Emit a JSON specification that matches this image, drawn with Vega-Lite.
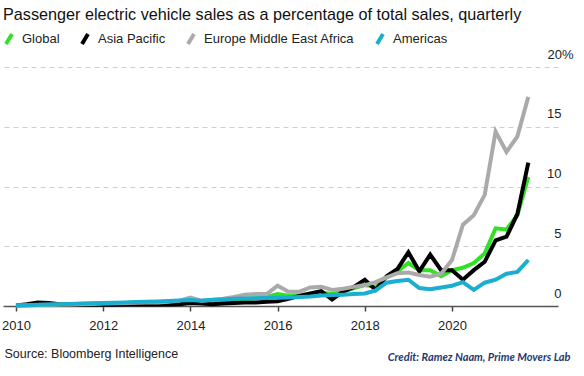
{
  "$schema": "https://vega.github.io/schema/vega-lite/v6.json",
  "width": 555,
  "height": 239,
  "autosize": {"type": "none"},
  "padding": {"left": 3, "top": 67, "right": 26, "bottom": 70},
  "background": "white",
  "config": {"view": {"stroke": null}, "font": "Liberation Sans"},
  "title": {
    "text": "Passenger electric vehicle sales as a percentage of total sales, quarterly",
    "anchor": "start",
    "frame": "group",
    "font": "Liberation Sans",
    "fontSize": 16.2,
    "fontWeight": "normal",
    "color": "#111111",
    "offset": 9
  },
  "data": {
    "values": [
      {"t": 2010, "s": "Global", "v": 0.05}, {"t": 2010.25, "s": "Global", "v": 0.07}, {"t": 2010.5, "s": "Global", "v": 0.1}, {"t": 2010.75, "s": "Global", "v": 0.12},
      {"t": 2011, "s": "Global", "v": 0.14}, {"t": 2011.25, "s": "Global", "v": 0.15}, {"t": 2011.5, "s": "Global", "v": 0.17}, {"t": 2011.75, "s": "Global", "v": 0.19},
      {"t": 2012, "s": "Global", "v": 0.22}, {"t": 2012.25, "s": "Global", "v": 0.24}, {"t": 2012.5, "s": "Global", "v": 0.26}, {"t": 2012.75, "s": "Global", "v": 0.28},
      {"t": 2013, "s": "Global", "v": 0.3}, {"t": 2013.25, "s": "Global", "v": 0.32}, {"t": 2013.5, "s": "Global", "v": 0.35}, {"t": 2013.75, "s": "Global", "v": 0.38},
      {"t": 2014, "s": "Global", "v": 0.45}, {"t": 2014.25, "s": "Global", "v": 0.4}, {"t": 2014.5, "s": "Global", "v": 0.45}, {"t": 2014.75, "s": "Global", "v": 0.5},
      {"t": 2015, "s": "Global", "v": 0.55}, {"t": 2015.25, "s": "Global", "v": 0.6}, {"t": 2015.5, "s": "Global", "v": 0.65}, {"t": 2015.75, "s": "Global", "v": 0.75},
      {"t": 2016, "s": "Global", "v": 1.0}, {"t": 2016.25, "s": "Global", "v": 0.85}, {"t": 2016.5, "s": "Global", "v": 0.9}, {"t": 2016.75, "s": "Global", "v": 1.0},
      {"t": 2017, "s": "Global", "v": 1.1}, {"t": 2017.25, "s": "Global", "v": 1.0}, {"t": 2017.5, "s": "Global", "v": 1.2}, {"t": 2017.75, "s": "Global", "v": 1.5},
      {"t": 2018, "s": "Global", "v": 1.75}, {"t": 2018.25, "s": "Global", "v": 1.6}, {"t": 2018.5, "s": "Global", "v": 2.4}, {"t": 2018.75, "s": "Global", "v": 2.9},
      {"t": 2019, "s": "Global", "v": 3.6}, {"t": 2019.25, "s": "Global", "v": 3.0}, {"t": 2019.5, "s": "Global", "v": 3.0}, {"t": 2019.75, "s": "Global", "v": 2.5},
      {"t": 2020, "s": "Global", "v": 3.0}, {"t": 2020.25, "s": "Global", "v": 3.2}, {"t": 2020.5, "s": "Global", "v": 3.6}, {"t": 2020.75, "s": "Global", "v": 4.4},
      {"t": 2021, "s": "Global", "v": 6.5}, {"t": 2021.25, "s": "Global", "v": 6.4}, {"t": 2021.5, "s": "Global", "v": 7.6}, {"t": 2021.75, "s": "Global", "v": 10.8},

      {"t": 2010, "s": "Asia Pacific", "v": 0.05}, {"t": 2010.25, "s": "Asia Pacific", "v": 0.15}, {"t": 2010.5, "s": "Asia Pacific", "v": 0.3}, {"t": 2010.75, "s": "Asia Pacific", "v": 0.25},
      {"t": 2011, "s": "Asia Pacific", "v": 0.15}, {"t": 2011.25, "s": "Asia Pacific", "v": 0.12}, {"t": 2011.5, "s": "Asia Pacific", "v": 0.1}, {"t": 2011.75, "s": "Asia Pacific", "v": 0.1},
      {"t": 2012, "s": "Asia Pacific", "v": 0.1}, {"t": 2012.25, "s": "Asia Pacific", "v": 0.1}, {"t": 2012.5, "s": "Asia Pacific", "v": 0.12}, {"t": 2012.75, "s": "Asia Pacific", "v": 0.12},
      {"t": 2013, "s": "Asia Pacific", "v": 0.12}, {"t": 2013.25, "s": "Asia Pacific", "v": 0.12}, {"t": 2013.5, "s": "Asia Pacific", "v": 0.12}, {"t": 2013.75, "s": "Asia Pacific", "v": 0.15},
      {"t": 2014, "s": "Asia Pacific", "v": 0.25}, {"t": 2014.25, "s": "Asia Pacific", "v": 0.2}, {"t": 2014.5, "s": "Asia Pacific", "v": 0.15}, {"t": 2014.75, "s": "Asia Pacific", "v": 0.2},
      {"t": 2015, "s": "Asia Pacific", "v": 0.25}, {"t": 2015.25, "s": "Asia Pacific", "v": 0.3}, {"t": 2015.5, "s": "Asia Pacific", "v": 0.3}, {"t": 2015.75, "s": "Asia Pacific", "v": 0.35},
      {"t": 2016, "s": "Asia Pacific", "v": 0.4}, {"t": 2016.25, "s": "Asia Pacific", "v": 0.6}, {"t": 2016.5, "s": "Asia Pacific", "v": 0.85}, {"t": 2016.75, "s": "Asia Pacific", "v": 1.05},
      {"t": 2017, "s": "Asia Pacific", "v": 1.25}, {"t": 2017.25, "s": "Asia Pacific", "v": 0.55}, {"t": 2017.5, "s": "Asia Pacific", "v": 1.2}, {"t": 2017.75, "s": "Asia Pacific", "v": 1.6},
      {"t": 2018, "s": "Asia Pacific", "v": 2.2}, {"t": 2018.25, "s": "Asia Pacific", "v": 1.35}, {"t": 2018.5, "s": "Asia Pacific", "v": 2.5}, {"t": 2018.75, "s": "Asia Pacific", "v": 3.1},
      {"t": 2019, "s": "Asia Pacific", "v": 4.5}, {"t": 2019.25, "s": "Asia Pacific", "v": 2.9}, {"t": 2019.5, "s": "Asia Pacific", "v": 4.3}, {"t": 2019.75, "s": "Asia Pacific", "v": 3.0},
      {"t": 2020, "s": "Asia Pacific", "v": 3.0}, {"t": 2020.25, "s": "Asia Pacific", "v": 2.2}, {"t": 2020.5, "s": "Asia Pacific", "v": 3.0}, {"t": 2020.75, "s": "Asia Pacific", "v": 3.7},
      {"t": 2021, "s": "Asia Pacific", "v": 5.5}, {"t": 2021.25, "s": "Asia Pacific", "v": 5.8}, {"t": 2021.5, "s": "Asia Pacific", "v": 7.7}, {"t": 2021.75, "s": "Asia Pacific", "v": 12.0},

      {"t": 2010, "s": "Europe Middle East Africa", "v": 0.05}, {"t": 2010.25, "s": "Europe Middle East Africa", "v": 0.06}, {"t": 2010.5, "s": "Europe Middle East Africa", "v": 0.08}, {"t": 2010.75, "s": "Europe Middle East Africa", "v": 0.1},
      {"t": 2011, "s": "Europe Middle East Africa", "v": 0.12}, {"t": 2011.25, "s": "Europe Middle East Africa", "v": 0.13}, {"t": 2011.5, "s": "Europe Middle East Africa", "v": 0.15}, {"t": 2011.75, "s": "Europe Middle East Africa", "v": 0.17},
      {"t": 2012, "s": "Europe Middle East Africa", "v": 0.2}, {"t": 2012.25, "s": "Europe Middle East Africa", "v": 0.22}, {"t": 2012.5, "s": "Europe Middle East Africa", "v": 0.25}, {"t": 2012.75, "s": "Europe Middle East Africa", "v": 0.27},
      {"t": 2013, "s": "Europe Middle East Africa", "v": 0.3}, {"t": 2013.25, "s": "Europe Middle East Africa", "v": 0.3}, {"t": 2013.5, "s": "Europe Middle East Africa", "v": 0.35}, {"t": 2013.75, "s": "Europe Middle East Africa", "v": 0.45},
      {"t": 2014, "s": "Europe Middle East Africa", "v": 0.7}, {"t": 2014.25, "s": "Europe Middle East Africa", "v": 0.45}, {"t": 2014.5, "s": "Europe Middle East Africa", "v": 0.5}, {"t": 2014.75, "s": "Europe Middle East Africa", "v": 0.6},
      {"t": 2015, "s": "Europe Middle East Africa", "v": 0.75}, {"t": 2015.25, "s": "Europe Middle East Africa", "v": 0.95}, {"t": 2015.5, "s": "Europe Middle East Africa", "v": 1.0}, {"t": 2015.75, "s": "Europe Middle East Africa", "v": 1.0},
      {"t": 2016, "s": "Europe Middle East Africa", "v": 1.7}, {"t": 2016.25, "s": "Europe Middle East Africa", "v": 1.2}, {"t": 2016.5, "s": "Europe Middle East Africa", "v": 1.2}, {"t": 2016.75, "s": "Europe Middle East Africa", "v": 1.55},
      {"t": 2017, "s": "Europe Middle East Africa", "v": 1.6}, {"t": 2017.25, "s": "Europe Middle East Africa", "v": 1.35}, {"t": 2017.5, "s": "Europe Middle East Africa", "v": 1.45}, {"t": 2017.75, "s": "Europe Middle East Africa", "v": 1.6},
      {"t": 2018, "s": "Europe Middle East Africa", "v": 1.75}, {"t": 2018.25, "s": "Europe Middle East Africa", "v": 2.0}, {"t": 2018.5, "s": "Europe Middle East Africa", "v": 2.4}, {"t": 2018.75, "s": "Europe Middle East Africa", "v": 2.75},
      {"t": 2019, "s": "Europe Middle East Africa", "v": 2.8}, {"t": 2019.25, "s": "Europe Middle East Africa", "v": 2.6}, {"t": 2019.5, "s": "Europe Middle East Africa", "v": 2.45}, {"t": 2019.75, "s": "Europe Middle East Africa", "v": 2.7},
      {"t": 2020, "s": "Europe Middle East Africa", "v": 3.85}, {"t": 2020.25, "s": "Europe Middle East Africa", "v": 6.8}, {"t": 2020.5, "s": "Europe Middle East Africa", "v": 7.6}, {"t": 2020.75, "s": "Europe Middle East Africa", "v": 9.3},
      {"t": 2021, "s": "Europe Middle East Africa", "v": 14.6}, {"t": 2021.25, "s": "Europe Middle East Africa", "v": 12.9}, {"t": 2021.5, "s": "Europe Middle East Africa", "v": 14.2}, {"t": 2021.75, "s": "Europe Middle East Africa", "v": 17.5},

      {"t": 2010, "s": "Americas", "v": 0.05}, {"t": 2010.25, "s": "Americas", "v": 0.07}, {"t": 2010.5, "s": "Americas", "v": 0.1}, {"t": 2010.75, "s": "Americas", "v": 0.12},
      {"t": 2011, "s": "Americas", "v": 0.15}, {"t": 2011.25, "s": "Americas", "v": 0.17}, {"t": 2011.5, "s": "Americas", "v": 0.2}, {"t": 2011.75, "s": "Americas", "v": 0.22},
      {"t": 2012, "s": "Americas", "v": 0.25}, {"t": 2012.25, "s": "Americas", "v": 0.28}, {"t": 2012.5, "s": "Americas", "v": 0.3}, {"t": 2012.75, "s": "Americas", "v": 0.33},
      {"t": 2013, "s": "Americas", "v": 0.36}, {"t": 2013.25, "s": "Americas", "v": 0.38}, {"t": 2013.5, "s": "Americas", "v": 0.42}, {"t": 2013.75, "s": "Americas", "v": 0.45},
      {"t": 2014, "s": "Americas", "v": 0.5}, {"t": 2014.25, "s": "Americas", "v": 0.45}, {"t": 2014.5, "s": "Americas", "v": 0.52}, {"t": 2014.75, "s": "Americas", "v": 0.55},
      {"t": 2015, "s": "Americas", "v": 0.6}, {"t": 2015.25, "s": "Americas", "v": 0.62}, {"t": 2015.5, "s": "Americas", "v": 0.64}, {"t": 2015.75, "s": "Americas", "v": 0.66},
      {"t": 2016, "s": "Americas", "v": 0.7}, {"t": 2016.25, "s": "Americas", "v": 0.72}, {"t": 2016.5, "s": "Americas", "v": 0.75}, {"t": 2016.75, "s": "Americas", "v": 0.8},
      {"t": 2017, "s": "Americas", "v": 0.88}, {"t": 2017.25, "s": "Americas", "v": 0.92}, {"t": 2017.5, "s": "Americas", "v": 0.95}, {"t": 2017.75, "s": "Americas", "v": 1.0},
      {"t": 2018, "s": "Americas", "v": 1.05}, {"t": 2018.25, "s": "Americas", "v": 1.3}, {"t": 2018.5, "s": "Americas", "v": 1.95}, {"t": 2018.75, "s": "Americas", "v": 2.1},
      {"t": 2019, "s": "Americas", "v": 2.2}, {"t": 2019.25, "s": "Americas", "v": 1.5}, {"t": 2019.5, "s": "Americas", "v": 1.4}, {"t": 2019.75, "s": "Americas", "v": 1.55},
      {"t": 2020, "s": "Americas", "v": 1.7}, {"t": 2020.25, "s": "Americas", "v": 2.0}, {"t": 2020.5, "s": "Americas", "v": 1.35}, {"t": 2020.75, "s": "Americas", "v": 1.95},
      {"t": 2021, "s": "Americas", "v": 2.2}, {"t": 2021.25, "s": "Americas", "v": 2.7}, {"t": 2021.5, "s": "Americas", "v": 2.85}, {"t": 2021.75, "s": "Americas", "v": 3.85}
    ]
  },
  "mark": {"type": "line", "strokeWidth": 4, "strokeJoin": "miter"},
  "encoding": {
    "x": {
      "field": "t",
      "type": "quantitative",
      "scale": {"domain": [2009.702, 2022.431], "nice": false, "zero": false},
      "axis": {
        "values": [2010, 2012, 2014, 2016, 2018, 2020],
        "format": "d",
        "grid": false,
        "tickSize": 5,
        "tickWidth": 1.5,
        "tickColor": "#444444",
        "domainColor": "#555555",
        "domainWidth": 1.5,
        "labelFontSize": 13,
        "labelColor": "#222222",
        "labelPadding": 8,
        "labelFlush": false,
        "labelOverlap": false,
        "title": "Source: Bloomberg Intelligence",
        "titleAlign": "left",
        "titleAnchor": "start",
        "titleBaseline": "alphabetic",
        "titleX": 1,
        "titleY": 51,
        "titleFont": "Liberation Sans",
        "titleFontSize": 12.5,
        "titleFontWeight": "normal",
        "titleColor": "#222222"
      }
    },
    "y": {
      "field": "v",
      "type": "quantitative",
      "scale": {"domain": [0, 20], "nice": false},
      "axis": {
        "orient": "right",
        "values": [0, 5, 10, 15, 20],
        "labelExpr": "datum.value == 20 ? '20%' : datum.label",
        "domain": false,
        "ticks": false,
        "tickSize": 0,
        "grid": true,
        "gridDash": [5, 4],
        "gridColor": "#cfcfcf",
        "gridOpacity": {"condition": {"test": "datum.value == 0", "value": 0}, "value": 1},
        "labelAlign": "right",
        "labelBaseline": "alphabetic",
        "labelOffset": -9,
        "labelPadding": {"condition": {"test": "datum.value == 20", "value": 15}, "value": 3},
        "labelFontSize": 13,
        "labelColor": "#222222",
        "labelFlush": false,
        "title": "Credit: Ramez Naam, Prime Movers Lab",
        "titleAngle": 0,
        "titleAlign": "right",
        "titleBaseline": "alphabetic",
        "titleX": 12,
        "titleY": 293,
        "titleFont": "Lato",
        "titleFontStyle": "italic",
        "titleFontWeight": "bold",
        "titleFontSize": 11,
        "titleColor": "#1f3a70"
      }
    },
    "color": {
      "field": "s",
      "type": "nominal",
      "scale": {
        "domain": ["Global", "Asia Pacific", "Europe Middle East Africa", "Americas"],
        "range": ["#33e026", "#000000", "#aaaaaa", "#1aaed0"]
      },
      "legend": {
        "orient": "none",
        "legendX": -1,
        "legendY": -35,
        "direction": "horizontal",
        "title": null,
        "padding": 0,
        "symbolType": "M-0.6,1L0.6,-1",
        "symbolSize": 100,
        "symbolStrokeWidth": 4,
        "labelFont": "Liberation Sans",
        "labelFontSize": 13,
        "labelColor": "#222222",
        "labelOffset": 6,
        "columnPadding": 14
      }
    }
  }
}
